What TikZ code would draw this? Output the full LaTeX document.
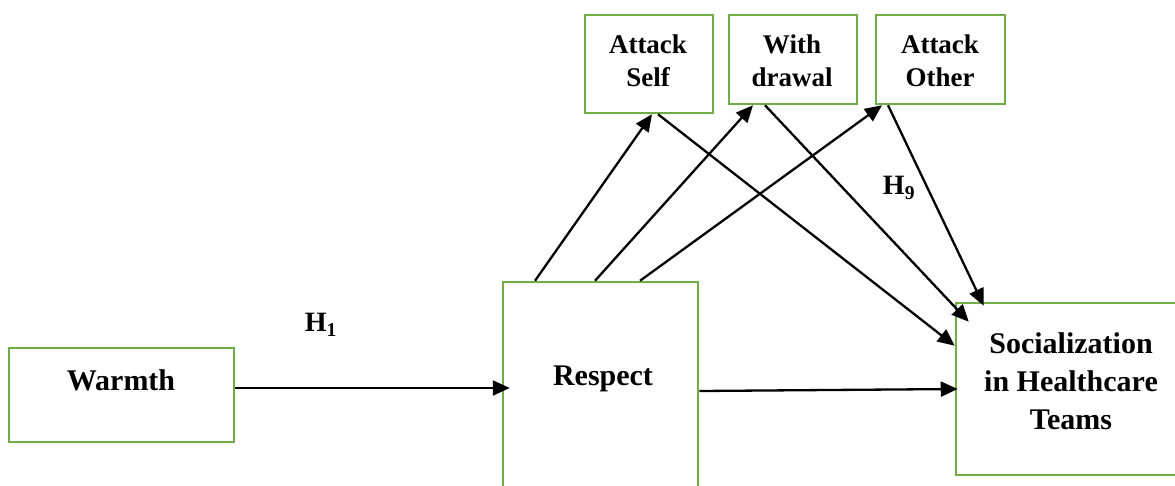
\documentclass[tikz,border=0pt]{standalone}
\usepackage{fontspec}
\setmainfont{Liberation Serif}
\usetikzlibrary{arrows.meta,calc}
\definecolor{boxgreen}{RGB}{112,173,71}
\tikzset{
  box/.style={draw=boxgreen, line width=2.5pt, inner sep=0pt},
  bigtext/.style={font=\fontsize{30}{38}\selectfont\bfseries, align=center, inner sep=0pt},
  smalltext/.style={font=\fontsize{27}{33}\selectfont\bfseries, align=center, inner sep=0pt},
  hyp/.style={font=\fontsize{28}{30}\selectfont\bfseries, inner sep=0pt},
  arr/.style={line width=2.3pt, -{Triangle[length=17pt,width=15pt]}}
}
\begin{document}
\begin{tikzpicture}[x=1pt,y=-1pt]
\useasboundingbox (0,0) rectangle (1175,485);
\clip (0,0) rectangle (1175,485);

% boxes
\node[box, minimum width=225pt, minimum height=94pt] (warmth) at (121.5,395) {};
\node[box, minimum width=195pt, minimum height=238pt] (respect) at (600.5,401) {};
\node[box, minimum width=229pt, minimum height=172pt] (soc) at (1070.5,389) {};
\node[box, minimum width=128pt, minimum height=98pt] (aself) at (649,64) {};
\node[box, minimum width=128pt, minimum height=89pt] (withd) at (793,59.5) {};
\node[box, minimum width=129pt, minimum height=89pt] (aother) at (940.5,59.5) {};

% box texts
\node[bigtext] (warmthtext) at (121,380) {Warmth};
\node[bigtext] (respecttext) at (603,379) {Respect};
\node[bigtext] (soctext) at (1071,381) {Socialization\\in Healthcare\\Teams};
\node[smalltext] (aselftext) at (648,61) {Attack\\Self};
\node[smalltext] (withdtext) at (792,61) {With\\drawal};
\node[smalltext] (aothertext) at (940,61) {Attack\\Other};

% hypothesis labels
\node[hyp] (h1) at (321,325) {H\textsubscript{1}};
\node[hyp] (h9) at (899,188) {H\textsubscript{9}};

% connectors
\draw[arr] ([yshift=7pt]warmth.east) -- ([xshift=8pt,yshift=13pt]respect.west);
\draw[arr] ([yshift=10pt]respect.east) -- ([xshift=3pt]soc.west);
\draw[arr] ([xshift=-65.5pt]respect.north) -- ([xshift=3pt]aself.south);
\draw[arr] ([xshift=-5.5pt]respect.north) -- ([xshift=-40pt]withd.south);
\draw[arr] ([xshift=39.5pt]respect.north) -- ([xshift=-58.5pt]aother.south);
\draw[arr] ([xshift=9pt]aself.south) -- ($(soc.north west)+(0,44)$);
\draw[arr] ([xshift=-28pt]withd.south) -- ($(soc.north west)+(14,20)$);
\draw[arr] ([xshift=-52.5pt]aother.south) -- ($(soc.north west)+(29,4)$);
\end{tikzpicture}
\end{document}
